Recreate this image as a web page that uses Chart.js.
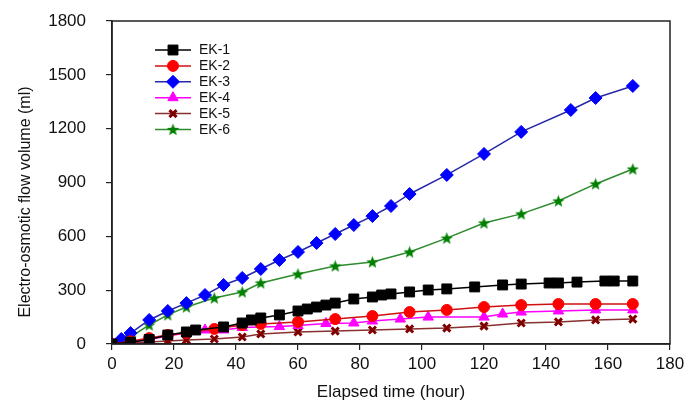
<!DOCTYPE html>
<html>
<head>
<meta charset="utf-8">
<script src="https://cdn.jsdelivr.net/npm/chart.js@4.4.1/dist/chart.umd.min.js"></script>
<style>
  body { margin: 0; background: #fff; }
  #chart { display: block; }
</style>
</head>
<body>
<canvas id="chart" width="689" height="407"></canvas>
<script>
// values (hour, ml)
const ek1Time = [0, 6, 12, 18, 24, 27, 36, 42, 45, 48, 54, 60, 63, 66, 69, 72, 78, 84, 87, 90, 96, 102, 108, 117, 126, 132, 141, 144, 150, 159, 162, 168];
const ek1Vol  = [0, 10, 25, 50, 67, 78, 95, 117, 134, 145, 162, 184, 195, 206, 217, 228, 251, 262, 273, 279, 290, 301, 307, 318, 329, 334, 340, 340, 345, 351, 351, 351];

const ek2Time = [0, 6, 12, 18, 24, 33, 42, 48, 60, 72, 84, 96, 108, 120, 132, 144, 156, 168];
const ek2Vol  = [0, 15, 33, 50, 61, 84, 106, 112, 123, 139, 156, 178, 190, 206, 217, 223, 223, 223];

const ek3Time = [0, 3, 6, 12, 18, 24, 30, 36, 42, 48, 54, 60, 66, 72, 78, 84, 90, 96, 108, 120, 132, 148, 156, 168];
const ek3Vol  = [0, 28, 61, 134, 184, 228, 273, 329, 368, 418, 468, 513, 563, 613, 663, 713, 769, 836, 942, 1059, 1182, 1304, 1371, 1438];

const ek4Time = [0, 3, 6, 12, 18, 24, 30, 36, 42, 54, 60, 69, 78, 84, 93, 102, 120, 126, 132, 144, 156, 168];
const ek4Vol  = [0, 5, 10, 25, 45, 61, 78, 78, 92, 97, 103, 114, 117, 128, 139, 150, 150, 167, 178, 184, 190, 190];

const ek5Time = [0, 6, 12, 18, 24, 33, 42, 48, 60, 72, 84, 96, 108, 120, 132, 144, 156, 168];
const ek5Vol  = [0, 6, 11, 17, 22, 28, 39, 56, 67, 72, 78, 84, 89, 100, 117, 123, 134, 139];

const ek6Time = [0, 6, 12, 18, 24, 33, 42, 48, 60, 72, 84, 96, 108, 120, 132, 144, 156, 168];
const ek6Vol  = [0, 39, 106, 162, 206, 256, 290, 340, 390, 435, 457, 513, 590, 674, 725, 797, 892, 975];

const seriesNames = ["EK-1", "EK-2", "EK-3", "EK-4", "EK-5", "EK-6"];
const xTicks = [0, 20, 40, 60, 80, 100, 120, 140, 160, 180];
const yTicks = [0, 300, 600, 900, 1200, 1500, 1800];

const FONT = "'Liberation Sans', Arial, sans-serif";

function pairs(t, v) {
  return t.map((x, i) => ({ x: x, y: v[i] }));
}

// chart.js 'star' is an asterisk, so build a filled five point star
function makeStar(size, color) {
  let c = document.createElement("canvas");
  c.width = size; c.height = size;
  let g = c.getContext("2d");
  let cx = size / 2, cy = size / 2 + 0.5, ro = size / 2, ri = ro * 0.42;
  g.fillStyle = color;
  g.beginPath();
  for (let k = 0; k < 10; k++) {
    let r = k % 2 ? ri : ro;
    let ang = -Math.PI / 2 + k * Math.PI / 5;
    g.lineTo(cx + r * Math.cos(ang), cy + r * Math.sin(ang));
  }
  g.closePath();
  g.fill();
  return c;
}
const starImg = makeStar(13, "#008000");

// marker / line look per series
const looks = [
  { line: "#000000", fill: "#000000", style: "rect",     radius: 7,   bw: 1 },
  { line: "#d01010", fill: "#ff0000", style: "circle",   radius: 5.5, bw: 1 },
  { line: "#2828a8", fill: "#0000ff", style: "rectRot",  radius: 6.5, bw: 1 },
  { line: "#ff00ff", fill: "#ff00ff", style: "triangle", radius: 6,   bw: 1 },
  { line: "#8a3030", fill: "#800000", style: "crossRot", radius: 5,   bw: 3 },
  { line: "#2e8b2e", fill: "#008000", style: starImg,    radius: 6.5, bw: 1 }
];

const allData = [
  pairs(ek1Time, ek1Vol), pairs(ek2Time, ek2Vol), pairs(ek3Time, ek3Vol),
  pairs(ek4Time, ek4Vol), pairs(ek5Time, ek5Vol), pairs(ek6Time, ek6Vol)
];

const datasets = allData.map((d, i) => ({
  label: seriesNames[i],
  data: d,
  borderColor: looks[i].line,
  borderWidth: 1.5,
  pointStyle: looks[i].style,
  pointRadius: looks[i].radius,
  pointBackgroundColor: looks[i].fill,
  pointBorderColor: looks[i].fill,
  pointBorderWidth: looks[i].bw,
  tension: 0,
  fill: false
}));

// box round the plot
const frame = {
  id: "frame",
  afterDraw(chart) {
    const a = chart.chartArea, ctx = chart.ctx;
    ctx.save();
    ctx.strokeStyle = "#222";
    ctx.lineWidth = 1.5;
    ctx.strokeRect(a.left, a.top, a.right - a.left, a.bottom - a.top);
    ctx.restore();
  }
};

// y title drawn by hand, it sits lower than the axis centre in the original
const yTitle = {
  id: "yTitle",
  afterDraw(chart) {
    const ctx = chart.ctx;
    ctx.save();
    ctx.translate(26, 202);
    ctx.rotate(-Math.PI / 2);
    ctx.fillStyle = "#111";
    ctx.font = "16px " + FONT;
    ctx.textAlign = "center";
    ctx.textBaseline = "middle";
    ctx.fillText("Electro-osmotic flow volume (ml)", 0, 0);
    ctx.restore();
  }
};

// legend with a short line through each marker
const lineLegend = {
  id: "lineLegend",
  afterDraw(chart) {
    const a = chart.chartArea, ctx = chart.ctx;
    const x0 = a.left + 43, y0 = a.top + 29, step = 15.9;
    ctx.save();
    chart.data.datasets.forEach((ds, i) => {
      const y = y0 + i * step;
      ctx.strokeStyle = ds.borderColor;
      ctx.lineWidth = 1.5;
      ctx.beginPath();
      ctx.moveTo(x0, y);
      ctx.lineTo(x0 + 36, y);
      ctx.stroke();
      ctx.fillStyle = ds.pointBackgroundColor;
      ctx.strokeStyle = ds.pointBorderColor;
      ctx.lineWidth = ds.pointBorderWidth;
      Chart.helpers.drawPoint(ctx, {
        pointStyle: ds.pointStyle, radius: ds.pointRadius, borderWidth: ds.pointBorderWidth, rotation: 0
      }, x0 + 18, y);
      ctx.fillStyle = "#111";
      ctx.font = "14px " + FONT;
      ctx.textBaseline = "middle";
      ctx.fillText(ds.label, x0 + 44, y + 0.5);
    });
    ctx.restore();
  }
};

const tickFont = { family: FONT, size: 17 };

new Chart(document.getElementById("chart"), {
  type: "line",
  data: { datasets: datasets },
  options: {
    responsive: false,
    animation: false,
    devicePixelRatio: 1,
    layout: { padding: { top: 21, right: 19, left: 0, bottom: 0 } },
    plugins: { legend: { display: false }, tooltip: { enabled: false } },
    scales: {
      x: {
        type: "linear",
        min: 0, max: 180,
        afterBuildTicks(axis) { axis.ticks = xTicks.map(v => ({ value: v })); },
        afterFit(axis) { axis.height = 63; axis.paddingLeft = 0; axis.paddingRight = 0; },
        grid: { display: true, drawOnChartArea: false, drawTicks: true, tickLength: 6, color: "#222", lineWidth: 1.2 },
        border: { display: true, color: "#222", width: 1.5 },
        ticks: { color: "#111", font: tickFont, padding: 4, maxRotation: 0, callback: v => String(v) },
        title: { display: true, text: "Elapsed time (hour)", color: "#111",
                 font: { family: FONT, size: 17 }, padding: { top: 4, bottom: 4 } }
      },
      y: {
        min: 0, max: 1800,
        afterBuildTicks(axis) { axis.ticks = yTicks.map(v => ({ value: v })); },
        afterFit(axis) { axis.width = 112; axis.paddingTop = 0; axis.paddingBottom = 0; },
        grid: { display: true, drawOnChartArea: false, drawTicks: true, tickLength: 6, color: "#222", lineWidth: 1.2 },
        border: { display: true, color: "#222", width: 1.5 },
        ticks: { color: "#111", font: tickFont, padding: 20, callback: v => String(v) }
      }
    }
  },
  plugins: [frame, yTitle, lineLegend]
});
</script>
</body>
</html>
